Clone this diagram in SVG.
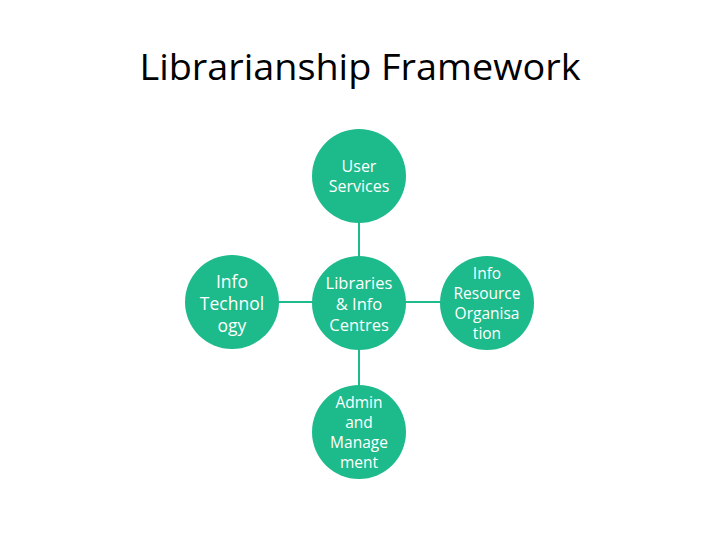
<svg xmlns="http://www.w3.org/2000/svg" width="720" height="540" viewBox="0 0 720 540">
<style>
.n{fill:#1dba8b}
.t{fill:#fff;font-family:"Open Sans","Liberation Sans",sans-serif;text-anchor:middle}
.c{stroke:#1dba8b;stroke-width:2;fill:none}
</style>
<rect width="720" height="540" fill="#fff"/>
<text x="360" y="80" font-family="'Open Sans','Liberation Sans',sans-serif" font-size="36" text-anchor="middle" textLength="441" lengthAdjust="spacingAndGlyphs" fill="#000">Librarianship Framework</text>
<g id="connectors">
<line class="c" x1="359" y1="222" x2="359" y2="257"/>
<line class="c" x1="359" y1="349" x2="359" y2="386"/>
<line class="c" x1="278" y1="302" x2="313" y2="302"/>
<line class="c" x1="405" y1="302" x2="441" y2="302"/>
</g>
<g id="user">
<circle class="n" cx="359" cy="176" r="47"/>
<text class="t" font-size="16"><tspan x="359" y="172">User</tspan><tspan x="359" y="192">Services</tspan></text>
</g>
<g id="center">
<circle class="n" cx="359" cy="303" r="47"/>
<text class="t" font-size="16.5"><tspan x="359" y="289">Libraries</tspan><tspan x="359" y="310">&amp; Info</tspan><tspan x="359" y="331">Centres</tspan></text>
</g>
<g id="it">
<circle class="n" cx="232" cy="302" r="47"/>
<text class="t" font-size="17.5"><tspan x="232" y="288">Info</tspan><tspan x="232" y="310">Technol</tspan><tspan x="232" y="332">ogy</tspan></text>
</g>
<g id="iro">
<circle class="n" cx="487" cy="303" r="47"/>
<text class="t" font-size="15.5"><tspan x="487" y="279">Info</tspan><tspan x="487" y="299">Resource</tspan><tspan x="487" y="319">Organisa</tspan><tspan x="487" y="339">tion</tspan></text>
</g>
<g id="admin">
<circle class="n" cx="359" cy="432" r="47"/>
<text class="t" font-size="15.5"><tspan x="359" y="408">Admin</tspan><tspan x="359" y="428">and</tspan><tspan x="359" y="448">Manage</tspan><tspan x="359" y="468">ment</tspan></text>
</g>
</svg>
